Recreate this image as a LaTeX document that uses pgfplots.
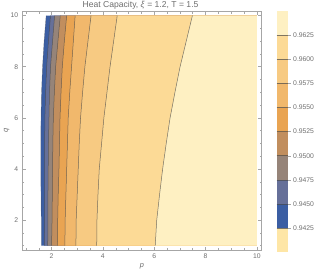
\documentclass[border=0pt]{standalone}
\usepackage{fontspec}
\setmainfont{Liberation Sans}
\usepackage{pgfplots}
\pgfplotsset{compat=1.18}
\definecolor{c0}{HTML}{FEE6A6}
\definecolor{c1}{HTML}{3B5EA3}
\definecolor{c2}{HTML}{667099}
\definecolor{c3}{HTML}{968479}
\definecolor{c4}{HTML}{C18E5E}
\definecolor{c5}{HTML}{E9A452}
\definecolor{c6}{HTML}{F1B86C}
\definecolor{c7}{HTML}{F7CA82}
\definecolor{c8}{HTML}{FCDA96}
\definecolor{c9}{HTML}{FEF0C2}
\definecolor{lc}{HTML}{4A4A4A}
\definecolor{tc}{HTML}{6E6E6E}
\definecolor{fc}{HTML}{A6A6A6}
\begin{document}
\begin{tikzpicture}
\useasboundingbox (0,0) rectangle (319pt,274pt);
\begin{axis}[name=main, at={(22.3pt,24pt)}, anchor=south west, scale only axis,
  width=239.4pt, height=238.3pt,
  xmin=0.86, xmax=10.19, ymin=0.83, ymax=10.15,
  axis line style={fc, line width=0.5pt},
  every tick/.style={fc, line width=0.4pt},
  tick align=inside, major tick length=3.5pt, minor tick length=2pt,
  xtick={2,4,6,8,10}, ytick={2,4,6,8,10},
  minor xtick={1,1.5,...,10}, minor ytick={1,1.5,...,10},
  tick label style={font=\fontsize{6.8}{7}\selectfont, text=tc},
  /pgf/number format/assume math mode=true,
  xticklabel style={yshift=-0.5pt}, yticklabel style={xshift=-0.5pt},
  xlabel={\textit{p}}, ylabel={\textit{q}},
  label style={font=\fontsize{7.4}{8}\selectfont, text=tc},
  xlabel style={at={(axis description cs:0.5,-0.07)}, anchor=center},
  ylabel style={at={(axis description cs:-0.065,0.5)}, anchor=center},
]
% filled bands: each fills from its contour to the right edge, painted in order
\addplot[fill=c1, draw=none] coordinates {(1.60,1)(1.60,2)(1.59,3)(1.58,4)(1.58,5)(1.59,6)(1.61,7)(1.65,8)(1.71,9)(1.79,10)(10,10)(10,1)};
\addplot[fill=c2, draw=none] coordinates {(1.72,1)(1.73,2)(1.73,3)(1.73,4)(1.73,5)(1.74,6)(1.77,7)(1.81,8)(1.88,9)(1.96,10)(10,10)(10,1)};
\addplot[fill=c3, draw=none] coordinates {(1.85,1)(1.86,2)(1.86,3)(1.87,4)(1.88,5)(1.90,6)(1.92,7)(1.96,8)(2.04,9)(2.12,10)(10,10)(10,1)};
\addplot[fill=c4, draw=none] coordinates {(2.00,1)(2.02,2)(2.03,3)(2.04,4)(2.05,5)(2.07,6)(2.11,7)(2.16,8)(2.25,9)(2.34,10)(10,10)(10,1)};
\addplot[fill=c5, draw=none] coordinates {(2.23,1)(2.24,2)(2.26,3)(2.29,4)(2.31,5)(2.33,6)(2.37,7)(2.42,8)(2.50,9)(2.59,10)(10,10)(10,1)};
\addplot[fill=c6, draw=none] coordinates {(2.52,1)(2.53,2)(2.56,3)(2.59,4)(2.62,5)(2.65,6)(2.71,7)(2.78,8)(2.85,9)(2.92,10)(10,10)(10,1)};
\addplot[fill=c7, draw=none] coordinates {(2.95,1)(2.96,2)(3.00,3)(3.04,4)(3.08,5)(3.13,6)(3.21,7)(3.30,8)(3.42,9)(3.54,10)(10,10)(10,1)};
\addplot[fill=c8, draw=none] coordinates {(3.76,1)(3.77,2)(3.81,3)(3.86,4)(3.95,5)(4.04,6)(4.16,7)(4.28,8)(4.42,9)(4.56,10)(10,10)(10,1)};
\addplot[fill=c9, draw=none] coordinates {(6.04,1)(6.10,2)(6.21,3)(6.33,4)(6.47,5)(6.62,6)(6.81,7)(7.01,8)(7.25,9)(7.49,10)(10,10)(10,1)};
% contour lines
\addplot[lc, opacity=0.5, line width=0.4pt] coordinates {(1.60,1)(1.60,2)(1.59,3)(1.58,4)(1.58,5)(1.59,6)(1.61,7)(1.65,8)(1.71,9)(1.79,10)};
\addplot[lc, opacity=0.75, line width=0.5pt] coordinates {(1.72,1)(1.73,2)(1.73,3)(1.73,4)(1.73,5)(1.74,6)(1.77,7)(1.81,8)(1.88,9)(1.96,10)};
\addplot[lc, opacity=0.75, line width=0.5pt] coordinates {(1.85,1)(1.86,2)(1.86,3)(1.87,4)(1.88,5)(1.90,6)(1.92,7)(1.96,8)(2.04,9)(2.12,10)};
\addplot[lc, opacity=0.75, line width=0.5pt] coordinates {(2.00,1)(2.02,2)(2.03,3)(2.04,4)(2.05,5)(2.07,6)(2.11,7)(2.16,8)(2.25,9)(2.34,10)};
\addplot[lc, opacity=0.75, line width=0.5pt] coordinates {(2.23,1)(2.24,2)(2.26,3)(2.29,4)(2.31,5)(2.33,6)(2.37,7)(2.42,8)(2.50,9)(2.59,10)};
\addplot[lc, opacity=0.75, line width=0.5pt] coordinates {(2.52,1)(2.53,2)(2.56,3)(2.59,4)(2.62,5)(2.65,6)(2.71,7)(2.78,8)(2.85,9)(2.92,10)};
\addplot[lc, opacity=0.75, line width=0.5pt] coordinates {(2.95,1)(2.96,2)(3.00,3)(3.04,4)(3.08,5)(3.13,6)(3.21,7)(3.30,8)(3.42,9)(3.54,10)};
\addplot[lc, opacity=0.75, line width=0.5pt] coordinates {(3.76,1)(3.77,2)(3.81,3)(3.86,4)(3.95,5)(4.04,6)(4.16,7)(4.28,8)(4.42,9)(4.56,10)};
\addplot[lc, opacity=0.75, line width=0.5pt] coordinates {(6.04,1)(6.10,2)(6.21,3)(6.33,4)(6.47,5)(6.62,6)(6.81,7)(7.01,8)(7.25,9)(7.49,10)};
\end{axis}
\node[font=\fontsize{8.6}{9}\selectfont, text=tc, anchor=center, inner sep=0pt] at (140.5pt,268.5pt) {Heat Capacity, \textit{ξ} = 1.2, T = 1.5};
% colour bar
\begin{axis}[at={(276.7pt,21.7pt)}, anchor=south west, scale only axis,
  width=11pt, height=241.3pt,
  xmin=0, xmax=1, ymin=0.94, ymax=0.965,
  axis x line=none, axis y line*=right,
  y axis line style={draw=none},
  ytick={0.9425,0.945,0.9475,0.95,0.9525,0.955,0.9575,0.96,0.9625},
  scaled y ticks=false,
  yticklabel style={/pgf/number format/.cd, fixed, fixed zerofill, precision=4, /tikz/.cd, font=\fontsize{6.8}{7}\selectfont, text=tc, xshift=-1pt},
  /pgf/number format/assume math mode=true,
  tick align=outside, major tick length=3pt,
  every tick/.style={fc, line width=0.4pt},
  clip=false,
]
\addplot[fill=c0, draw=none] coordinates {(0,0.94)(1,0.94)(1,0.9425)(0,0.9425)};
\addplot[fill=c1, draw=none] coordinates {(0,0.9425)(1,0.9425)(1,0.945)(0,0.945)};
\addplot[fill=c2, draw=none] coordinates {(0,0.945)(1,0.945)(1,0.9475)(0,0.9475)};
\addplot[fill=c3, draw=none] coordinates {(0,0.9475)(1,0.9475)(1,0.95)(0,0.95)};
\addplot[fill=c4, draw=none] coordinates {(0,0.95)(1,0.95)(1,0.9525)(0,0.9525)};
\addplot[fill=c5, draw=none] coordinates {(0,0.9525)(1,0.9525)(1,0.955)(0,0.955)};
\addplot[fill=c6, draw=none] coordinates {(0,0.955)(1,0.955)(1,0.9575)(0,0.9575)};
\addplot[fill=c7, draw=none] coordinates {(0,0.9575)(1,0.9575)(1,0.96)(0,0.96)};
\addplot[fill=c8, draw=none] coordinates {(0,0.96)(1,0.96)(1,0.9625)(0,0.9625)};
\addplot[fill=c9, draw=none] coordinates {(0,0.9625)(1,0.9625)(1,0.965)(0,0.965)};
\addplot[lc, opacity=0.7, line width=0.6pt] coordinates {(0,0.9425)(1,0.9425)};
\addplot[lc, opacity=0.7, line width=0.6pt] coordinates {(0,0.945)(1,0.945)};
\addplot[lc, opacity=0.7, line width=0.6pt] coordinates {(0,0.9475)(1,0.9475)};
\addplot[lc, opacity=0.7, line width=0.6pt] coordinates {(0,0.95)(1,0.95)};
\addplot[lc, opacity=0.7, line width=0.6pt] coordinates {(0,0.9525)(1,0.9525)};
\addplot[lc, opacity=0.7, line width=0.6pt] coordinates {(0,0.955)(1,0.955)};
\addplot[lc, opacity=0.7, line width=0.6pt] coordinates {(0,0.9575)(1,0.9575)};
\addplot[lc, opacity=0.7, line width=0.6pt] coordinates {(0,0.96)(1,0.96)};
\addplot[lc, opacity=0.7, line width=0.6pt] coordinates {(0,0.9625)(1,0.9625)};
\end{axis}
\end{tikzpicture}
\end{document}
